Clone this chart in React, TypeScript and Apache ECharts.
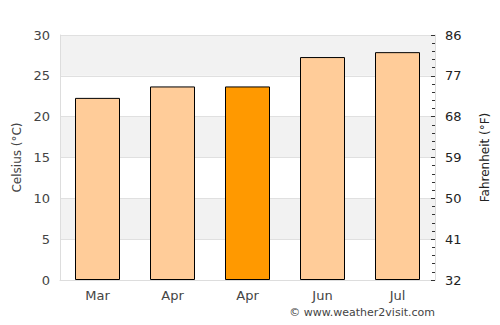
import React, { useEffect, useRef } from "react";
import * as echarts from "echarts";

const categories = ["Mar", "Apr", "Apr", "Jun", "Jul"];
const celsius = [22.3, 23.7, 23.7, 27.3, 27.9];
const highlightIndex = 2;
const celsiusTicks = [0, 30, 5];

export default function App() {
  const ref = useRef<HTMLDivElement>(null);
  useEffect(() => {
    const chart = echarts.init(ref.current!, null, { renderer: "svg" });
    const font = "DejaVu Sans";
    chart.setOption({
      animation: false,
      grid: { left: 60, right: 65, top: 35, bottom: 45 },
      xAxis: {
        type: "category",
        data: categories,
        axisLine: { lineStyle: { color: "#dddddd" } },
        axisTick: { show: false },
        axisLabel: { color: "#444", fontFamily: font, fontSize: 13, margin: 9 },
      },
      yAxis: [
        {
          type: "value",
          min: celsiusTicks[0],
          max: celsiusTicks[1],
          interval: celsiusTicks[2],
          name: "Celsius (°C)",
          nameLocation: "middle",
          nameGap: 36,
          nameTextStyle: { color: "#444", fontFamily: font, fontSize: 12 },
          axisLine: { show: true, lineStyle: { color: "#dddddd" } },
          axisTick: { show: false },
          axisLabel: { color: "#444", fontFamily: font, fontSize: 13, margin: 10 },
          splitLine: { lineStyle: { color: "#e0e0e0" } },
          splitArea: { show: true, areaStyle: { color: ["#ffffff", "#f2f2f2"] } },
        },
        {
          type: "value",
          position: "right",
          min: celsiusTicks[0],
          max: celsiusTicks[1],
          interval: celsiusTicks[2],
          name: "Fahrenheit (°F)",
          nameLocation: "middle",
          nameGap: 44,
          nameRotate: 90,
          nameTextStyle: { color: "#222", fontFamily: font, fontSize: 12 },
          axisLine: { show: true, lineStyle: { color: "#dddddd" } },
          axisTick: { show: true, inside: true, length: 4, lineStyle: { color: "#333" } },
          minorTick: { show: true, splitNumber: 5, length: 3, lineStyle: { color: "#333" } },
          axisLabel: {
            color: "#222",
            fontFamily: font,
            fontSize: 13,
            margin: 10,
            formatter: (v: number) => String(Math.round(v * 1.8 + 32)),
          },
          splitLine: { show: false },
        },
      ],
      series: [
        {
          type: "bar",
          yAxisIndex: 0,
          barWidth: "60%",
          data: celsius.map((v, i) => ({
            value: v,
            itemStyle: {
              color: i === highlightIndex ? "#ff9900" : "#ffcc99",
              borderColor: "#000",
              borderWidth: 1,
            },
          })),
        },
      ],
      graphic: [
        {
          type: "text",
          right: 65,
          top: 307,
          style: {
            text: "© www.weather2visit.com",
            fill: "#444",
            font: `11px ${font}`,
          },
        },
      ],
    });
    return () => chart.dispose();
  }, []);
  return <div ref={ref} style={{ width: 500, height: 325, position: "absolute", left: 0, top: 0 }} />;
}
